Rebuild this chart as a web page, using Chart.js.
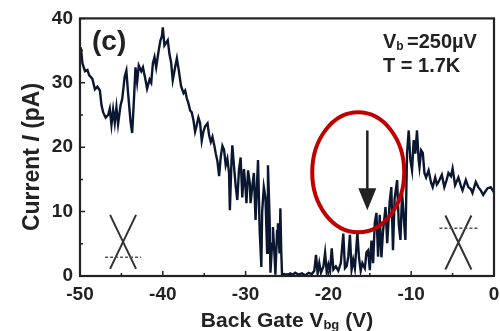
<!DOCTYPE html>
<html>
<head>
<meta charset="utf-8">
<script src="https://cdn.jsdelivr.net/npm/chart.js@4.4.0/dist/chart.umd.min.js"></script>
<style>
  html, body { margin: 0; padding: 0; background: #fff; }
  #wrap { width: 500px; height: 331px; }
</style>
</head>
<body>
<div id="wrap"><canvas id="chart" width="500" height="331"></canvas></div>
<script>
// ======================= DATA =======================
const vbg = [
  -49.9, -49.7, -49.4, -49.1, -48.9, -48.5, -48.2, -47.9, -47.6, -47.4,
  -47.2, -46.9, -46.6, -46.4, -46.2, -46.0, -45.8, -45.6, -45.4, -45.1,
  -44.9, -44.6, -44.4, -44.2, -43.9, -43.7, -43.5, -43.3, -43.1, -42.9,
  -42.6, -42.4, -42.1, -41.9, -41.6, -41.4, -41.2, -41.0, -40.8, -40.5,
  -40.3, -40.1, -40.0, -39.8, -39.6, -39.4, -39.2, -39.0, -38.8, -38.5,
  -38.3, -38.1, -37.8, -37.5, -37.3, -37.1, -36.9, -36.7, -36.5, -36.3,
  -36.1, -35.9, -35.7, -35.5, -35.3, -35.1, -34.9, -34.6, -34.4, -34.2,
  -34.0, -33.8, -33.6, -33.4, -33.2, -33.0, -32.8, -32.6, -32.4, -32.2,
  -32.0, -31.9, -31.7, -31.6, -31.4, -31.2, -31.0, -30.8, -30.6, -30.4,
  -30.2, -30.0, -29.9, -29.7, -29.5, -29.4, -29.2, -29.0, -28.8, -28.6,
  -28.5, -28.3, -28.1, -28.0, -27.8, -27.6, -27.4, -27.3, -27.1, -27.0,
  -26.8, -26.7, -26.5, -26.4, -26.2, -26.1, -25.9, -25.8, -25.7, -25.6,
  -25.3, -25.0, -24.6, -24.3, -24.0, -23.6, -23.2, -22.8, -22.4, -22.0,
  -21.7, -21.5, -21.3, -21.1, -20.9, -20.6, -20.4, -20.2, -20.0, -19.8,
  -19.6, -19.4, -19.1, -18.8, -18.5, -18.2, -18.0, -17.8, -17.6, -17.4,
  -17.2, -17.0, -16.8, -16.5, -16.3, -16.1, -15.9, -15.6, -15.4, -15.2,
  -15.0, -14.8, -14.6, -14.4, -14.2, -14.0, -13.8, -13.6, -13.4, -13.1,
  -12.9, -12.6, -12.4, -12.2, -12.0, -11.7, -11.5, -11.3, -11.1, -10.9,
  -10.7, -10.5, -10.3, -10.1, -9.9, -9.7, -9.5, -9.3, -9.1, -9.0,
  -8.8, -8.6, -8.4, -8.2, -7.9, -7.6, -7.4, -7.1, -6.9, -6.7,
  -6.3, -6.0, -5.7, -5.5, -5.2, -5.0, -4.7, -4.3, -4.0, -3.8,
  -3.4, -3.1, -2.8, -2.6, -2.2, -1.9, -1.6, -1.3, -1.0, -0.8,
  -0.4, 0.0
];
const current = [
  35.5, 33.0, 31.8, 32.0, 31.2, 30.6, 29.0, 29.4, 28.8, 26.5,
  25.4, 24.6, 25.0, 26.0, 23.5, 25.8, 23.8, 26.2, 23.6, 26.5,
  27.5, 31.0, 31.9, 28.5, 24.0, 22.2, 27.0, 32.4, 30.1, 32.7,
  31.8, 32.4, 30.5, 29.1, 30.5, 30.0, 33.0, 34.0, 32.4, 35.0,
  36.5, 37.3, 38.6, 35.8, 36.2, 36.6, 34.5, 33.2, 30.4, 32.5,
  33.8, 32.2, 29.5, 28.4, 28.8, 27.6, 26.8, 25.7, 25.4, 24.2,
  22.4, 23.4, 24.6, 23.8, 21.0, 22.4, 23.2, 23.7, 21.8, 20.8,
  21.6, 20.4, 19.0, 17.8, 15.5, 18.5, 20.2, 19.6, 17.2, 18.2,
  16.0, 10.2, 18.0, 20.3, 17.0, 14.0, 11.8, 16.5, 18.4, 12.2,
  16.6, 13.5, 11.3, 16.4, 14.5, 11.3, 13.8, 16.0, 8.7, 15.0,
  18.0, 7.1, 1.4, 10.0, 13.8, 12.2, 3.6, 17.2, 9.0, 0.5,
  5.0, 7.6, 3.0, 0.2, 7.0, 8.2, 3.5, 10.5, 4.0, 0.2,
  0.3, 0.1, 0.4, 0.2, 0.5, 0.2, 0.4, 0.1, 0.5, 0.3,
  0.8, 3.3, 0.4, 2.0, 0.5, 1.5, 3.6, 0.6, 1.8, 0.8,
  4.3, 1.0, 1.5, 0.8, 2.0, 6.6, 1.2, 1.5, 3.0, 6.4,
  1.0, 2.5, 1.2, 6.7, 2.8, 0.8, 2.0, 1.2, 3.7, 4.0,
  0.9, 5.5, 2.0, 8.2, 9.8, 3.0, 9.5, 2.9, 7.0, 10.7,
  5.1, 11.5, 13.8, 4.0, 12.0, 14.9, 8.0, 5.6, 12.9, 9.0,
  5.6, 19.1, 22.6, 18.0, 16.4, 21.1, 19.0, 22.6, 18.0, 16.9,
  19.5, 19.1, 16.0, 15.3, 16.4, 14.5, 13.8, 15.3, 14.2, 14.6,
  15.7, 13.8, 15.0, 16.0, 15.5, 16.7, 14.1, 15.3, 14.0, 13.3,
  14.9, 13.8, 13.5, 12.9, 14.6, 13.8, 13.3, 12.6, 13.2, 13.6,
  13.8, 13.0
];

// axis ticks
const xTicks = [-50, -40, -30, -20, -10, 0];
const yTicks = [0, 10, 20, 30, 40];

// ======================= ANNOTATION PLUGIN =======================
const TXT = '#222';
const FONT = '"Liberation Sans", Arial, sans-serif';

function drawX(ctx, cx, cy, dashY, dashHalf) {
  ctx.save();
  ctx.strokeStyle = '#333';
  ctx.lineWidth = 2;
  ctx.beginPath();
  ctx.moveTo(cx - 13, cy - 27); ctx.lineTo(cx + 13, cy + 27);
  ctx.moveTo(cx + 13, cy - 27); ctx.lineTo(cx - 13, cy + 27);
  ctx.stroke();
  ctx.setLineDash([3, 2]);
  ctx.lineWidth = 1.5;
  ctx.strokeStyle = '#555';
  ctx.beginPath();
  ctx.moveTo(cx - dashHalf, dashY); ctx.lineTo(cx + dashHalf, dashY);
  ctx.stroke();
  ctx.restore();
}

const decorations = {
  id: 'decorations',
  afterDraw(chart) {
    const { ctx, chartArea: a, scales: { x, y } } = chart;
    ctx.save();

    // frame
    ctx.strokeStyle = '#222';
    ctx.lineWidth = 2.2;
    ctx.strokeRect(a.left, a.top, a.right - a.left, a.bottom - a.top);

    // inward ticks
    ctx.lineWidth = 1.5;
    ctx.beginPath();
    for (let v = -50; v <= 0; v += 5) {
      const px = x.getPixelForValue(v);
      const len = v % 10 === 0 ? 5 : 3;
      ctx.moveTo(px, a.bottom); ctx.lineTo(px, a.bottom - len);
    }
    for (let v = 0; v <= 40; v += 5) {
      const py = y.getPixelForValue(v);
      const len = v % 10 === 0 ? 5 : 3;
      ctx.moveTo(a.left, py); ctx.lineTo(a.left + len, py);
    }
    ctx.stroke();

    // panel label and conditions
    ctx.fillStyle = TXT;
    ctx.textBaseline = 'alphabetic';
    ctx.font = 'bold 28px ' + FONT;
    ctx.fillText('(c)', 92, 50);

    ctx.font = 'bold 20px ' + FONT;
    let tx = 383;
    ctx.fillText('V', tx, 48); tx += ctx.measureText('V').width;
    ctx.font = 'bold 12px ' + FONT;
    ctx.fillText('b', tx, 50); tx += ctx.measureText('b ').width;
    ctx.font = 'bold 20px ' + FONT;
    ctx.fillText('=250µV', tx, 48);
    ctx.fillText('T = 1.7K', 383, 72);

    // x axis title
    const p1 = 'Back Gate V', p3 = ' (V)';
    ctx.font = 'bold 21px ' + FONT; const w1 = ctx.measureText(p1).width, w3 = ctx.measureText(p3).width;
    ctx.font = 'bold 13px ' + FONT; const w2 = ctx.measureText('bg').width;
    let sx = (a.left + a.right) / 2 - (w1 + w2 + w3) / 2;
    ctx.font = 'bold 21px ' + FONT; ctx.fillText(p1, sx, 327); sx += w1;
    ctx.font = 'bold 13px ' + FONT; ctx.fillText('bg', sx, 329); sx += w2;
    ctx.font = 'bold 21px ' + FONT; ctx.fillText(p3, sx, 327);

    // y axis title (rotated)
    ctx.save();
    ctx.translate(39, 157);
    ctx.rotate(-Math.PI / 2);
    const q1 = 'Current ', q2 = 'I', q3 = ' (pA)';
    ctx.font = 'bold 23px ' + FONT; const u1 = ctx.measureText(q1).width, u3 = ctx.measureText(q3).width;
    ctx.font = 'italic bold 23px ' + FONT; const u2 = ctx.measureText(q2).width;
    let sy = -(u1 + u2 + u3) / 2;
    ctx.font = 'bold 23px ' + FONT; ctx.fillText(q1, sy, 0); sy += u1;
    ctx.font = 'italic bold 23px ' + FONT; ctx.fillText(q2, sy, 0); sy += u2;
    ctx.font = 'bold 23px ' + FONT; ctx.fillText(q3, sy, 0);
    ctx.restore();

    // crossed-band sketches
    drawX(ctx, x.getPixelForValue(-44.8), y.getPixelForValue(5.3), y.getPixelForValue(2.9), 18);
    drawX(ctx, x.getPixelForValue(-4.3), y.getPixelForValue(5.2), y.getPixelForValue(7.4), 19);

    // arrow
    const ax = x.getPixelForValue(-15.3);
    const aTop = y.getPixelForValue(22.6), aTip = y.getPixelForValue(10.2);
    ctx.strokeStyle = '#222';
    ctx.fillStyle = '#222';
    ctx.lineWidth = 2.5;
    ctx.beginPath(); ctx.moveTo(ax, aTop); ctx.lineTo(ax, aTip - 18); ctx.stroke();
    ctx.beginPath();
    ctx.moveTo(ax - 9, aTip - 22); ctx.lineTo(ax + 9, aTip - 22); ctx.lineTo(ax, aTip);
    ctx.closePath(); ctx.fill();

    // red ellipse
    ctx.strokeStyle = '#c00000';
    ctx.lineWidth = 4;
    ctx.beginPath();
    ctx.ellipse(x.getPixelForValue(-16.4), y.getPixelForValue(16.1), 46, 60, 0, 0, Math.PI * 2);
    ctx.stroke();

    ctx.restore();
  }
};

// ======================= CHART =======================
const points = vbg.map((v, i) => ({ x: v, y: current[i] }));

new Chart(document.getElementById('chart'), {
  type: 'line',
  data: {
    datasets: [{
      data: points,
      borderColor: '#0b1630',
      borderWidth: 2.4,
      pointRadius: 0,
      tension: 0,
      fill: false
    }]
  },
  options: {
    responsive: false,
    animation: false,
    layout: { padding: { top: 17, right: 0, left: 0, bottom: 0 } },
    plugins: { legend: { display: false }, tooltip: { enabled: false } },
    scales: {
      x: {
        type: 'linear', min: -50, max: 0,
        afterBuildTicks: s => { s.ticks = xTicks.map(v => ({ value: v })); },
        afterFit: s => { s.height = 55; s.paddingLeft = 0; s.paddingRight = 6; },
        grid: { display: false, drawTicks: false },
        border: { display: false },
        ticks: { padding: 7, color: TXT, font: { family: FONT, size: 19, weight: 'bold' } }
      },
      y: {
        min: 0, max: 40,
        afterBuildTicks: s => { s.ticks = yTicks.map(v => ({ value: v })); },
        afterFit: s => { s.width = 80; },
        grid: { display: false, drawTicks: false },
        border: { display: false },
        ticks: { padding: 7, color: TXT, font: { family: FONT, size: 19, weight: 'bold' } }
      }
    }
  },
  plugins: [decorations]
});
</script>
</body>
</html>
